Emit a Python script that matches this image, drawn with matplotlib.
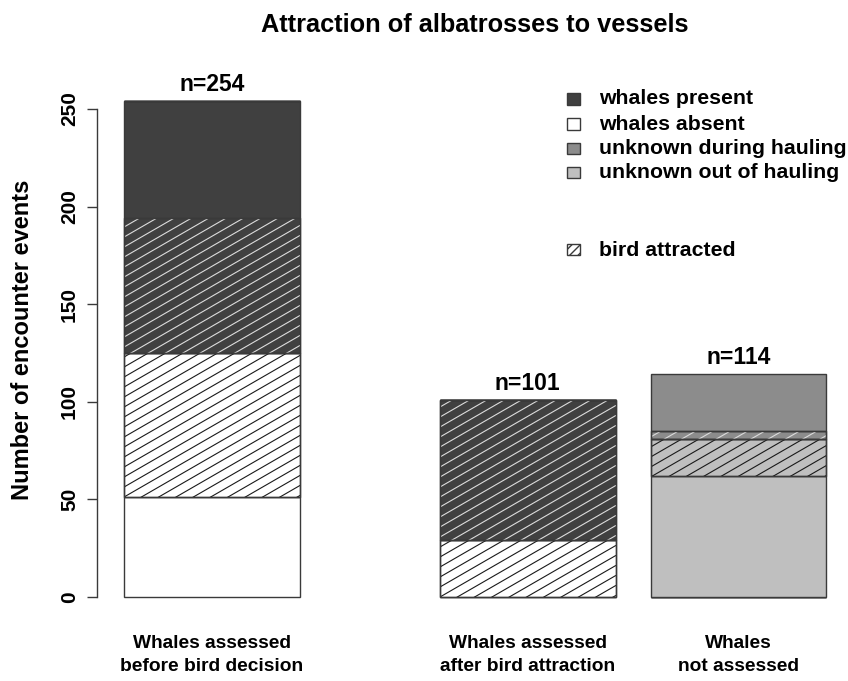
import numpy as np
import matplotlib
matplotlib.use("Agg")
import matplotlib.pyplot as plt
from matplotlib.patches import Rectangle
from matplotlib.transforms import blended_transform_factory

plt.rcParams['font.family'] = ['Liberation Sans', 'DejaVu Sans']
plt.rcParams['font.weight'] = 'bold'

# ---- data -------------------------------------------------------------
categories = ["Whales assessed\nbefore bird decision",
              "Whales assessed\nafter bird attraction",
              "Whales\nnot assessed"]
whales_absent = [51, 0, 0]
whales_absent_attracted = [74, 29, 0]
whales_present_attracted = [69, 72, 0]
whales_present = [60, 0, 0]
unknown_out_hauling = [0, 0, 62]
unknown_out_hauling_attracted = [0, 0, 19]
unknown_during_hauling_attracted = [0, 0, 4]
unknown_during_hauling = [0, 0, 29]
yticks = [0, 50, 100, 150, 200, 250]

DARK, MID, LIGHT, WHITE = '#404040', '#8c8c8c', '#bfbfbf', '#ffffff'
EDGE = '#3a3a3a'

# stacking order: (values, fill, hatched)
stack = [
    (whales_absent, WHITE, False),
    (whales_absent_attracted, WHITE, True),
    (whales_present_attracted, DARK, True),
    (whales_present, DARK, False),
    (unknown_out_hauling, LIGHT, False),
    (unknown_out_hauling_attracted, LIGHT, True),
    (unknown_during_hauling_attracted, MID, True),
    (unknown_during_hauling, MID, False),
]

centers = [0.7, 2.5, 3.7]
width = 1.0

fig = plt.figure(figsize=(8.48, 6.81), dpi=100)
W, H = 848, 681
px_y0, px_y250 = 597, 109
ppu_y = (px_y0 - px_y250) / 250.0
ylo, yhi = -8, 262
ax_bottom = px_y0 + (0 - ylo) * ppu_y
ax_top = px_y250 - (yhi - 250) * ppu_y
ax_left, ax_right = 97, 840
ppu_x = 175.5
x_at0 = 89
ax = fig.add_axes([ax_left / W, 1 - ax_bottom / H,
                   (ax_right - ax_left) / W, (ax_bottom - ax_top) / H])
ax.set_xlim((ax_left - x_at0) / ppu_x, (ax_right - x_at0) / ppu_x)
ax.set_ylim(ylo, yhi)

# hatch geometry (30 degrees, in display space)
angle = np.deg2rad(30)
slope = np.tan(angle) * ppu_x / ppu_y
dy = 10.0 / ppu_y

bottom = np.zeros(len(centers))
for vals, fill, hatched in stack:
    vals = np.array(vals, dtype=float)
    bars = ax.bar(centers, vals, width=width, bottom=bottom, color=fill,
                  edgecolor=EDGE, linewidth=1.0, zorder=2)
    if hatched:
        lc = '#dcdcdc' if fill in (DARK, MID) else '#1a1a1a'
        for p, v in zip(bars.patches, vals):
            if v <= 0:
                continue
            x0, y0 = p.get_x(), p.get_y()
            x1, y1 = x0 + p.get_width(), y0 + p.get_height()
            cmin = y0 - slope * (x1 - x0)
            k0 = np.floor(cmin / dy)
            k1 = np.ceil(y1 / dy)
            for k in np.arange(k0, k1 + 1):
                c = k * dy
                ln, = ax.plot([x0, x1], [c, c + slope * (x1 - x0)],
                              color=lc, linewidth=0.8, zorder=3)
                ln.set_clip_path(p)
            ax.add_patch(Rectangle((x0, y0), x1 - x0, y1 - y0, fill=False,
                                   edgecolor=EDGE, linewidth=1.0, zorder=4))
    bottom += vals

totals = bottom
for cx, t in zip(centers, totals):
    ax.annotate(f"n={int(t)}", (cx, t), xytext=(0, 12), textcoords='offset points',
                ha='center', va='center', fontsize=16.5, fontweight='bold')

# axes styling
for s in ['top', 'right', 'bottom']:
    ax.spines[s].set_visible(False)
ax.spines['left'].set_bounds(0, 250)
ax.spines['left'].set_linewidth(1.0)
ax.spines['left'].set_color(EDGE)
ax.set_yticks(yticks)
ax.set_yticklabels([str(v) for v in yticks], rotation=90, va='center',
                   fontsize=15, fontweight='bold')
ax.tick_params(axis='y', length=7, width=1.0, color=EDGE, pad=6)
ax.set_xticks([])

fig.text(23 / W, 1 - 340 / H, "Number of encounter events", rotation=90,
         ha='center', va='center', fontsize=17, fontweight='bold')

trans = blended_transform_factory(ax.transData, fig.transFigure)
for cx, lab in zip(centers, categories):
    ax.text(cx, 1 - 655 / H, lab, transform=trans, ha='center', va='center',
            fontsize=13.8, fontweight='bold', linespacing=1.5)

fig.text(475 / W, 1 - 25 / H, "Attraction of albatrosses to vessels",
         ha='center', va='center', fontsize=18.3, fontweight='bold')

# legend
leg_items = [("whales present", DARK, False, 99),
             ("whales absent", WHITE, False, 124),
             ("unknown during hauling", MID, False, 148),
             ("unknown out of hauling", LIGHT, False, 173),
             ("bird attracted", WHITE, True, 250)]
sw, sh = 13, 11
for label, fc, hat, yc in leg_items:
    r = Rectangle((567 / W, 1 - (yc + sh / 2) / H), sw / W, sh / H,
                  transform=fig.transFigure, facecolor=fc, edgecolor=EDGE,
                  linewidth=1.0, hatch='////' if hat else None)
    fig.patches.append(r)
    fig.text(599 / W, 1 - yc / H, label, ha='left', va='center',
             fontsize=15.3, fontweight='bold')

fig.savefig("out.png", dpi=100)
